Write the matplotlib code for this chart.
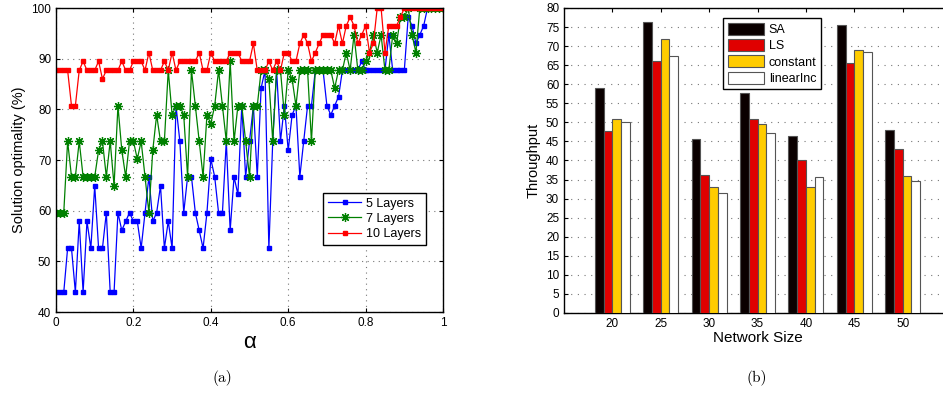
import numpy as np
import matplotlib.pyplot as plt

plt.rcParams['font.family'] = ['Liberation Sans', 'DejaVu Sans']

# (a) solution optimality vs alpha
alpha = np.round(np.arange(0, 1.001, 0.01), 2)

capas_5 = [43.9, 43.9, 43.9, 52.6, 52.6, 43.9, 57.9, 43.9, 57.9, 52.6,
           64.9, 52.6, 52.6, 59.6, 43.9, 43.9, 59.6, 56.1, 57.9, 59.6,
           57.9, 57.9, 52.6, 59.6, 66.7, 57.9, 59.6, 64.9, 52.6, 57.9,
           52.6, 80.7, 73.7, 59.6, 66.7, 66.7, 59.6, 56.1, 52.6, 59.6,
           70.2, 66.7, 59.6, 59.6, 73.7, 56.1, 66.7, 63.2, 80.7, 66.7,
           73.7, 80.7, 66.7, 84.2, 87.7, 52.6, 73.7, 87.7, 73.7, 80.7,
           71.9, 78.9, 80.7, 66.7, 73.7, 80.7, 80.7, 87.7, 87.7, 87.7,
           80.7, 78.9, 80.7, 82.5, 87.7, 87.7, 87.7, 87.7, 87.7, 89.5,
           87.7, 87.7, 87.7, 87.7, 87.7, 87.7, 94.7, 87.7, 87.7, 87.7,
           87.7, 98.2, 96.5, 93.0, 94.7, 96.5, 100, 100, 100, 100, 100]

capas_7 = [59.6, 59.6, 59.6, 73.7, 66.7, 66.7, 73.7, 66.7, 66.7, 66.7,
           66.7, 71.9, 73.7, 66.7, 73.7, 64.9, 80.7, 71.9, 66.7, 73.7,
           73.7, 70.2, 73.7, 66.7, 59.6, 71.9, 78.9, 73.7, 73.7, 87.7,
           78.9, 80.7, 80.7, 78.9, 66.7, 87.7, 80.7, 73.7, 66.7, 78.9,
           77.2, 80.7, 87.7, 80.7, 73.7, 89.5, 73.7, 80.7, 80.7, 73.7,
           66.7, 80.7, 80.7, 87.7, 87.7, 86.0, 73.7, 87.7, 87.7, 78.9,
           87.7, 86.0, 80.7, 87.7, 87.7, 87.7, 73.7, 87.7, 87.7, 87.7,
           87.7, 87.7, 84.2, 87.7, 87.7, 91.2, 87.7, 94.7, 87.7, 87.7,
           89.5, 91.2, 94.7, 91.2, 94.7, 87.7, 87.7, 94.7, 93.0, 98.2,
           98.2, 100, 94.7, 91.2, 100, 100, 100, 100, 100, 100, 100]

capas_10 = [87.7, 87.7, 87.7, 87.7, 80.7, 80.7, 87.7, 89.5, 87.7, 87.7,
            87.7, 89.5, 86.0, 87.7, 87.7, 87.7, 87.7, 89.5, 87.7, 87.7,
            89.5, 89.5, 89.5, 87.7, 91.2, 87.7, 87.7, 87.7, 89.5, 87.7,
            91.2, 87.7, 89.5, 89.5, 89.5, 89.5, 89.5, 91.2, 87.7, 87.7,
            91.2, 89.5, 89.5, 89.5, 89.5, 91.2, 91.2, 91.2, 89.5, 89.5,
            89.5, 93.0, 87.7, 87.7, 87.7, 89.5, 87.7, 89.5, 87.7, 91.2,
            91.2, 89.5, 89.5, 93.0, 94.7, 93.0, 89.5, 91.2, 93.0, 94.7,
            94.7, 94.7, 93.0, 96.5, 93.0, 96.5, 98.2, 96.5, 93.0, 94.7,
            96.5, 91.2, 93.0, 100, 100, 91.2, 96.5, 96.5, 96.5, 98.2,
            100, 100, 100, 100, 100, 100, 100, 100, 100, 100, 100]

# (b) throughput vs network size
tam_red = [20, 25, 30, 35, 40, 45, 50]
metodos = ['SA', 'LS', 'constant', 'linearInc']
sa = [59.0, 76.2, 45.6, 57.8, 46.3, 75.6, 48.0]
ls = [47.7, 66.0, 36.3, 51.0, 40.0, 65.5, 43.0]
constant = [51.0, 71.9, 33.0, 49.6, 33.0, 69.0, 36.0]
linearinc = [50.0, 67.5, 31.5, 47.1, 35.6, 68.5, 34.5]

fig = plt.figure(figsize=(9.43, 3.93), dpi=100)

# ---- panel (a)
ax1 = fig.add_axes([0.0594, 0.2061, 0.4104, 0.7735])
ax1.plot(alpha, capas_5, color='#0000ff', marker='s', ms=3, lw=0.9,
         label='5 Layers')
ax1.plot(alpha, capas_7, color='#008000', marker=(8, 2, 0), ms=6.5, mew=0.9,
         lw=0.9, label='7 Layers')
ax1.plot(alpha, capas_10, color='#ff0000', marker='s', ms=3, lw=0.9,
         label='10 Layers')
ax1.set_xlim(0, 1)
ax1.set_ylim(40, 100)
ax1.set_xticks([0, 0.2, 0.4, 0.6, 0.8, 1])
ax1.set_xticklabels(['0', '0.2', '0.4', '0.6', '0.8', '1'])
ax1.set_yticks(range(40, 101, 10))
ax1.grid(True, linestyle=(0, (1, 4)), color='#777777', lw=0.8)
ax1.tick_params(direction='in', labelsize=8.5, top=True, right=True, length=3)
ax1.set_ylabel('Solution optimality (%)', fontsize=10.5, labelpad=4)
ax1.set_xlabel('α', fontsize=16, labelpad=2)
ax1.legend(loc='lower right', bbox_to_anchor=(0.972, 0.2), fontsize=9,
           fancybox=False, edgecolor='black', framealpha=1, handlelength=2.6,
           borderpad=0.4, labelspacing=0.25, handletextpad=0.4)
for s in ax1.spines.values():
    s.set_linewidth(1.0)

# ---- panel (b)
ax2 = fig.add_axes([0.5981, 0.2036, 0.4104, 0.7761])
x = np.array(tam_red, dtype=float)
ancho = 0.9
colores = ['#0a0000', '#e00000', '#ffcc00', '#ffffff']
series = [sa, ls, constant, linearinc]
for k, (vals, col, nom) in enumerate(zip(series, colores, metodos)):
    ax2.bar(x + (k - 1.5) * ancho, vals, width=ancho, color=col,
            edgecolor='#555555', lw=0.8, label=nom, zorder=3)
ax2.set_xlim(15, 55)
ax2.set_ylim(0, 80)
ax2.set_xticks(tam_red)
ax2.set_yticks(range(0, 81, 5))
ax2.grid(True, axis='y', linestyle=(0, (1, 5)), color='#777777', lw=0.8,
         zorder=0)
ax2.tick_params(direction='in', labelsize=8.5, top=True, right=True, length=3)
ax2.set_ylabel('Throughput', fontsize=10.5, labelpad=4)
ax2.set_xlabel('Network Size', fontsize=11, labelpad=1)
ax2.legend(loc='upper left', bbox_to_anchor=(0.395, 0.987), fontsize=9,
           fancybox=False, edgecolor='black', framealpha=1, handlelength=2.9,
           handleheight=1.1, borderpad=0.35, labelspacing=0.25,
           handletextpad=0.4)
for s in ax2.spines.values():
    s.set_linewidth(1.0)

# captions
fig.text(222 / 943, 1 - 378 / 393, '(a)', fontsize=11, family='cmr10',
         ha='center', va='center')
fig.text(757 / 943, 1 - 378 / 393, '(b)', fontsize=11, family='cmr10',
         ha='center', va='center')

fig.savefig('out.png', dpi=100)
